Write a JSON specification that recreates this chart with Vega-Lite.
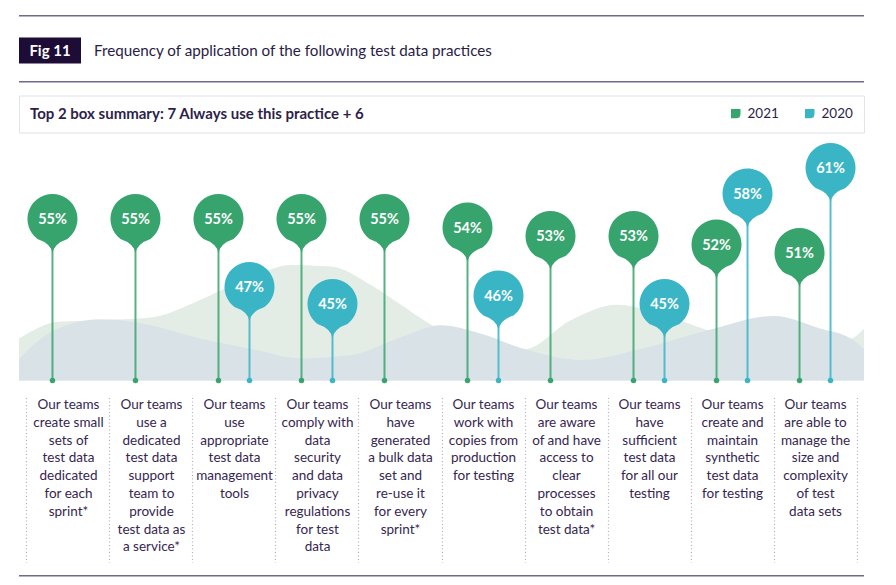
{
  "$schema": "https://vega.github.io/schema/vega-lite/v6.json",
  "padding": {"left": 18, "top": 15, "right": 20, "bottom": 8},
  "background": "white",
  "config": {"font": "Lato", "view": {"stroke": null}},
  "resolve": {"scale": {"color": "independent"}},
  "spacing": 11.5,
  "vconcat": [
    {
      "spacing": 17,
      "vconcat": [
        {
          "spacing": 20.5,
          "vconcat": [
            {
              "data": {"values": [{"t": ""}]},
              "width": 845, "height": 1.5,
              "view": {"fill": "#74688a", "stroke": null},
              "mark": {"type": "point", "size": 0, "opacity": 0},
              "encoding": {}
            },
            {
              "spacing": 12,
              "hconcat": [
                {
                  "data": {"values": [{"t": "Fig 11"}]},
                  "width": 62, "height": 26,
                  "view": {"fill": "#1d0c36", "stroke": null},
                  "mark": {"type": "text", "color": "white", "fontSize": 15, "fontWeight": "bold", "baseline": "middle"},
                  "encoding": {"text": {"field": "t"}}
                },
                {
                  "data": {"values": [{"t": "Frequency of application of the following test data practices"}]},
                  "width": 398, "height": 26,
                  "mark": {"type": "text", "color": "#2a1c44", "fontSize": 15.2, "baseline": "middle"},
                  "encoding": {"text": {"field": "t"}}
                }
              ]
            }
          ]
        },
        {
          "data": {"values": [{"t": ""}]},
          "width": 845, "height": 1.5,
          "view": {"fill": "#74688a", "stroke": null},
          "mark": {"type": "point", "size": 0, "opacity": 0},
          "encoding": {}
        }
      ]
    },
    {
      "data": {"values": [
          {"practice": "Our teams\ncreate small\nsets of\ntest data\ndedicated\nfor each\nsprint*", "year": "2021", "value": 0.55},
          {"practice": "Our teams\nuse a\ndedicated\ntest data\nsupport\nteam to\nprovide\ntest data as\na service*", "year": "2021", "value": 0.55},
          {"practice": "Our teams\nuse\nappropriate\ntest data\nmanagement\ntools", "year": "2021", "value": 0.55},
          {"practice": "Our teams\ncomply with\ndata\nsecurity\nand data\nprivacy\nregulations\nfor test\ndata", "year": "2021", "value": 0.55},
          {"practice": "Our teams\nhave\ngenerated\na bulk data\nset and\nre-use it\nfor every\nsprint*", "year": "2021", "value": 0.55},
          {"practice": "Our teams\nwork with\ncopies from\nproduction\nfor testing", "year": "2021", "value": 0.54},
          {"practice": "Our teams\nare aware\nof and have\naccess to\nclear\nprocesses\nto obtain\ntest data*", "year": "2021", "value": 0.53},
          {"practice": "Our teams\nhave\nsufficient\ntest data\nfor all our\ntesting", "year": "2021", "value": 0.53},
          {"practice": "Our teams\ncreate and\nmaintain\nsynthetic\ntest data\nfor testing", "year": "2021", "value": 0.52},
          {"practice": "Our teams\nare able to\nmanage the\nsize and\ncomplexity\nof test\ndata sets", "year": "2021", "value": 0.51},
          {"practice": "Our teams\nuse\nappropriate\ntest data\nmanagement\ntools", "year": "2020", "value": 0.47},
          {"practice": "Our teams\ncomply with\ndata\nsecurity\nand data\nprivacy\nregulations\nfor test\ndata", "year": "2020", "value": 0.45},
          {"practice": "Our teams\nwork with\ncopies from\nproduction\nfor testing", "year": "2020", "value": 0.46},
          {"practice": "Our teams\nhave\nsufficient\ntest data\nfor all our\ntesting", "year": "2020", "value": 0.45},
          {"practice": "Our teams\ncreate and\nmaintain\nsynthetic\ntest data\nfor testing", "year": "2020", "value": 0.58},
          {"practice": "Our teams\nare able to\nmanage the\nsize and\ncomplexity\nof test\ndata sets", "year": "2020", "value": 0.61}
      ]},
      "width": 845,
      "height": 238,
      "resolve": {"scale": {"x": "independent"}},
      "encoding": {
        "y": {"field": "value", "type": "quantitative", "scale": {"domain": [0.36, 0.64], "nice": false, "zero": false}, "axis": null},
        "color": {
          "field": "year", "type": "nominal",
          "scale": {"domain": ["2021", "2020"], "range": ["#38a46d", "#3ab5c6"]},
          "legend": {
            "title": "Top 2 box summary: 7 Always use this practice + 6",
            "orient": "top", "direction": "horizontal",
            "titleOrient": "left", "titleFont": "Lato", "titleFontSize": 15, "titleFontWeight": "bold", "titleColor": "#2e1f4a",
            "titlePadding": 364, "titleLimit": 600,
            "labelFont": "Lato", "labelFontSize": 13.5, "labelFontWeight": "normal", "labelColor": "#2e1f4a", "labelOffset": 5,
            "symbolType": "M-1,-1H1V0.1Q1,1 0.1,1H-1Z", "symbolSize": 90, "symbolStrokeWidth": 0, "symbolOpacity": 1,
            "columnPadding": 24, "padding": 11,
            "strokeColor": "#e2e2ea", "fillColor": "white", "offset": 10,
            "encode": {"symbols": {"update": {"shape": {"value": "M-1,-1H1V0.1Q1,1 0.1,1H-1Z"}}}}
          }
        }
      },
      "layer": [
        {
          "data": {"values": [
            {"u": 0, "v": 0.409}, {"u": 4.6, "v": 0.429}, {"u": 9.7, "v": 0.431}, {"u": 15.6, "v": 0.434},
            {"u": 21.5, "v": 0.455}, {"u": 27.5, "v": 0.482}, {"u": 32.2, "v": 0.496}, {"u": 36.9, "v": 0.494},
            {"u": 41.7, "v": 0.472}, {"u": 45.2, "v": 0.449}, {"u": 48.2, "v": 0.429}, {"u": 53.5, "v": 0.403},
            {"u": 59.8, "v": 0.397}, {"u": 65.3, "v": 0.431}, {"u": 70.9, "v": 0.449}, {"u": 76.0, "v": 0.438},
            {"u": 81.5, "v": 0.419}, {"u": 87.8, "v": 0.399}, {"u": 93.7, "v": 0.399}, {"u": 98.5, "v": 0.409},
            {"u": 100, "v": 0.421}
          ]},
          "mark": {"type": "area", "interpolate": "monotone"},
          "encoding": {
            "x": {"field": "u", "type": "quantitative", "scale": {"domain": [0, 100], "nice": false, "zero": false}, "axis": null},
            "y": {"field": "v", "type": "quantitative", "scale": {"domain": [0.36, 0.64], "nice": false, "zero": false}, "axis": null},
            "y2": {"datum": 0.36},
            "color": {"value": "#e3ece5"}
          }
        },
        {
          "data": {"values": [
            {"u": 0, "v": 0.385}, {"u": 3.8, "v": 0.417}, {"u": 9.7, "v": 0.432}, {"u": 15.6, "v": 0.425},
            {"u": 21.5, "v": 0.409}, {"u": 27.5, "v": 0.397}, {"u": 33.4, "v": 0.386}, {"u": 39.3, "v": 0.390},
            {"u": 45.2, "v": 0.411}, {"u": 49.9, "v": 0.425}, {"u": 54.7, "v": 0.415}, {"u": 59.8, "v": 0.397},
            {"u": 66.5, "v": 0.384}, {"u": 73.6, "v": 0.397}, {"u": 81.5, "v": 0.419}, {"u": 89.3, "v": 0.436},
            {"u": 94.9, "v": 0.421}, {"u": 98.5, "v": 0.409}, {"u": 100, "v": 0.397}
          ]},
          "mark": {"type": "area", "interpolate": "monotone"},
          "encoding": {
            "x": {"field": "u", "type": "quantitative", "scale": {"domain": [0, 100], "nice": false, "zero": false}, "axis": null},
            "y": {"field": "v", "type": "quantitative", "scale": {"domain": [0.36, 0.64], "nice": false, "zero": false}, "axis": null},
            "y2": {"datum": 0.36},
            "color": {"value": "#d9e2e6"}
          }
        },
        {
          "mark": {"type": "rule", "strokeWidth": 2, "opacity": 0.85, "xOffset": {"expr": "datum.year === '2021' ? -15.5 : 15.5"}},
          "encoding": {
            "x": {
              "field": "practice", "type": "nominal", "sort": null,
              "scale": {"type": "band", "paddingInner": 0, "paddingOuter": 0.09},
              "axis": {
                "title": null, "orient": "bottom", "offset": 17, "domain": false,
                "labelAngle": 0, "labelAlign": "center", "labelBaseline": "top",
                "labelExpr": "split(datum.label, '\\n')",
                "labelFont": "Lato", "labelFontSize": 13.5, "labelColor": "#36264f",
                "labelLineHeight": 17.8, "labelPadding": -165, "labelOverlap": false, "labelLimit": 200,
                "tickBand": "extent", "tickSize": 165, "tickColor": "#b3aac6", "tickDash": [1, 2.5], "tickWidth": 1.2
              }
            },
            "y2": {"datum": 0.36}
          }
        },
        {
          "mark": {"type": "circle", "size": 30, "opacity": 1, "xOffset": {"expr": "datum.year === '2021' ? -15.5 : 15.5"}},
          "encoding": {
            "x": {"field": "practice", "type": "nominal", "sort": null, "scale": {"type": "band", "paddingInner": 0, "paddingOuter": 0.09}, "axis": null},
            "y": {"datum": 0.36}
          }
        },
        {
          "mark": {"type": "point", "shape": "M0,1.36 Q0.07,0.98 0.6,0.8 A1,1 0 1 0 -0.6,0.8 Q-0.07,0.98 0,1.36 Z", "size": 2500, "filled": true, "opacity": 1, "strokeWidth": 0, "xOffset": {"expr": "datum.year === '2021' ? -15.5 : 15.5"}},
          "encoding": {
            "x": {"field": "practice", "type": "nominal", "sort": null, "scale": {"type": "band", "paddingInner": 0, "paddingOuter": 0.09}, "axis": null}
          }
        },
        {
          "mark": {"type": "text", "fontSize": 14.5, "fontWeight": "bold", "baseline": "middle", "dy": 1, "xOffset": {"expr": "datum.year === '2021' ? -15.5 : 15.5"}},
          "encoding": {
            "x": {"field": "practice", "type": "nominal", "sort": null, "scale": {"type": "band", "paddingInner": 0, "paddingOuter": 0.09}, "axis": null},
            "text": {"field": "value", "type": "quantitative", "format": ".0%"},
            "color": {"value": "white"}
          }
        }
      ]
    },
    {
      "data": {"values": [{"t": ""}]},
      "width": 845, "height": 1.5,
      "view": {"fill": "#74688a", "stroke": null},
      "mark": {"type": "point", "size": 0, "opacity": 0},
      "encoding": {}
    }
  ]
}
